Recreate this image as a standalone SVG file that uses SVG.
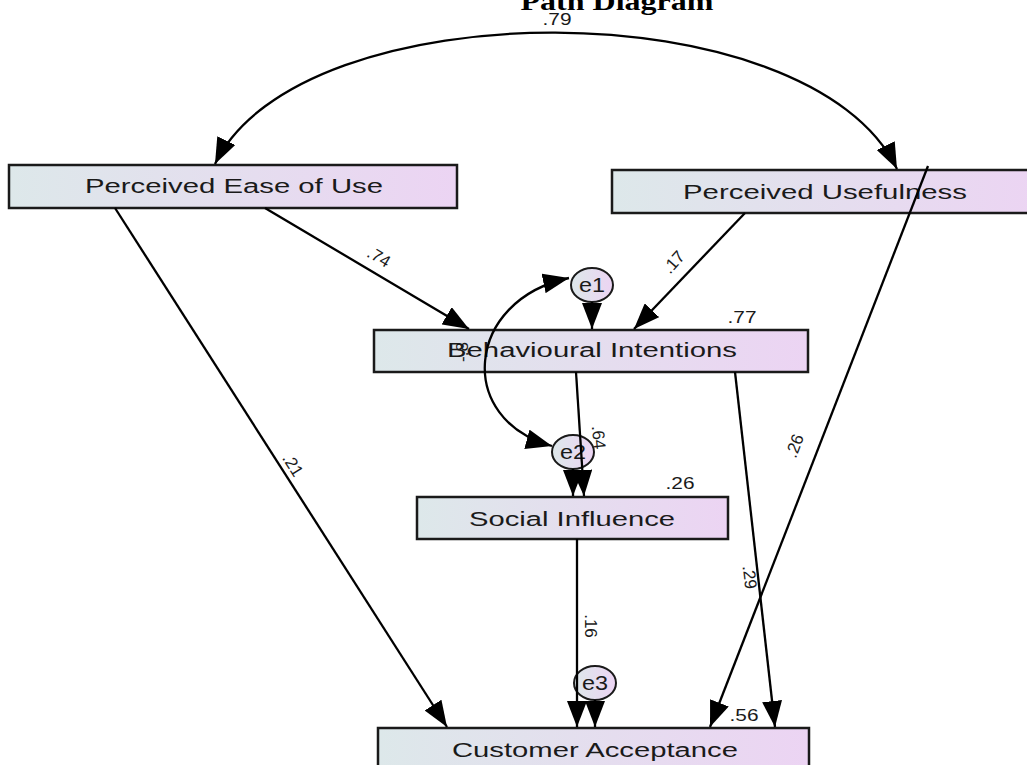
<svg xmlns="http://www.w3.org/2000/svg" width="1027" height="765" viewBox="0 0 1027 765">
<defs>
<linearGradient id="g" x1="0" y1="0" x2="1" y2="0">
<stop offset="0" stop-color="#dde8ea"/>
<stop offset="1" stop-color="#ecd4f3"/>
</linearGradient>
<marker id="ah" markerUnits="userSpaceOnUse" markerWidth="26" markerHeight="20" refX="26" refY="10" orient="auto-start-reverse">
<path d="M0,0 L26,10 L0,20 z" fill="#000"/>
</marker>
<style>
.box{fill:url(#g);stroke:#1a1a1a;stroke-width:2.5}
.ell{fill:url(#g);stroke:#1a1a1a;stroke-width:2}
.lbl{font-family:"Liberation Sans",Arial,sans-serif;font-size:20px;fill:#1a1a1a;text-anchor:middle}
.num{font-family:"Liberation Sans",Arial,sans-serif;font-size:17px;fill:#1a1a1a;text-anchor:middle}
.c{fill:none;stroke:#000;stroke-width:2.3;marker-end:url(#ah)}
.d{fill:none;stroke:#000;stroke-width:2.3;marker-start:url(#ah);marker-end:url(#ah)}
</style>
</defs>
<rect width="1027" height="765" fill="#fff"/>
<text x="617" y="10" font-family="Liberation Serif,'Times New Roman',serif" font-weight="bold" font-size="26" text-anchor="middle" textLength="193" lengthAdjust="spacingAndGlyphs">Path Diagram</text>

<g id="peu">
<rect class="box" x="9" y="165" width="448" height="43"/>
<text class="lbl" x="234" y="193" textLength="298" lengthAdjust="spacingAndGlyphs">Perceived Ease of Use</text>
</g>
<g id="pu">
<rect class="box" x="612" y="170" width="430" height="43"/>
<text class="lbl" x="825" y="199" textLength="284" lengthAdjust="spacingAndGlyphs">Perceived Usefulness</text>
</g>
<g id="bi">
<rect class="box" x="374" y="330" width="434" height="42"/>
<text class="lbl" x="592" y="357" textLength="290" lengthAdjust="spacingAndGlyphs">Behavioural Intentions</text>
</g>
<g id="si">
<rect class="box" x="417" y="497" width="311" height="42"/>
<text class="lbl" x="572" y="526" textLength="206" lengthAdjust="spacingAndGlyphs">Social Influence</text>
</g>
<g id="ca">
<rect class="box" x="378" y="728" width="431" height="50"/>
<text class="lbl" x="595" y="757" textLength="286" lengthAdjust="spacingAndGlyphs">Customer Acceptance</text>
</g>
<g id="e1">
<ellipse class="ell" cx="592" cy="285" rx="21" ry="17"/>
<text class="lbl" x="592" y="292" textLength="26" lengthAdjust="spacingAndGlyphs">e1</text>
</g>
<g id="e2">
<ellipse class="ell" cx="573" cy="452" rx="21" ry="17"/>
<text class="lbl" x="573" y="459" textLength="26" lengthAdjust="spacingAndGlyphs">e2</text>
</g>
<g id="e3">
<ellipse class="ell" cx="595" cy="683" rx="21" ry="17"/>
<text class="lbl" x="595" y="690" textLength="26" lengthAdjust="spacingAndGlyphs">e3</text>
</g>

<g id="connectors">
<path class="d" d="M215,164 C300,-12 810,-12 897,169"/>
<line class="c" x1="265" y1="208" x2="469" y2="329"/>
<line class="c" x1="745" y1="213" x2="634" y2="329"/>
<line class="c" x1="592" y1="302" x2="592" y2="329"/>
<line class="c" x1="115" y1="208" x2="447" y2="727"/>
<line class="c" x1="928" y1="166" x2="710" y2="727"/>
<line class="c" x1="576" y1="372" x2="584" y2="496"/>
<line class="c" x1="573" y1="469" x2="573" y2="496"/>
<line class="c" x1="735" y1="372" x2="775" y2="727"/>
<line class="c" x1="577" y1="539" x2="577" y2="727"/>
<line class="c" x1="595" y1="700" x2="595" y2="727"/>
<path class="d" d="M569,278 C465,300 455,420 552,446"/>
</g>

<g id="labels">
<text class="num" x="557" y="25" textLength="29" lengthAdjust="spacingAndGlyphs">.79</text>
<text class="num" x="742" y="323" textLength="29" lengthAdjust="spacingAndGlyphs">.77</text>
<text class="num" x="680" y="489" textLength="29" lengthAdjust="spacingAndGlyphs">.26</text>
<text class="num" x="744" y="721" textLength="29" lengthAdjust="spacingAndGlyphs">.56</text>
<text class="num" transform="translate(376,262) rotate(31)">.74</text>
<text class="num" transform="translate(678,266) rotate(-48)">.17</text>
<text class="num" transform="translate(593,438) rotate(84)">.64</text>
<text class="num" transform="translate(800,448) rotate(-69)">.26</text>
<text class="num" transform="translate(288,468) rotate(58)">.21</text>
<text class="num" transform="translate(744,578) rotate(83)">.29</text>
<text class="num" transform="translate(585,626) rotate(90)">.16</text>
<text class="num" transform="translate(468,352) rotate(-90)">-.8</text>
</g>
</svg>
